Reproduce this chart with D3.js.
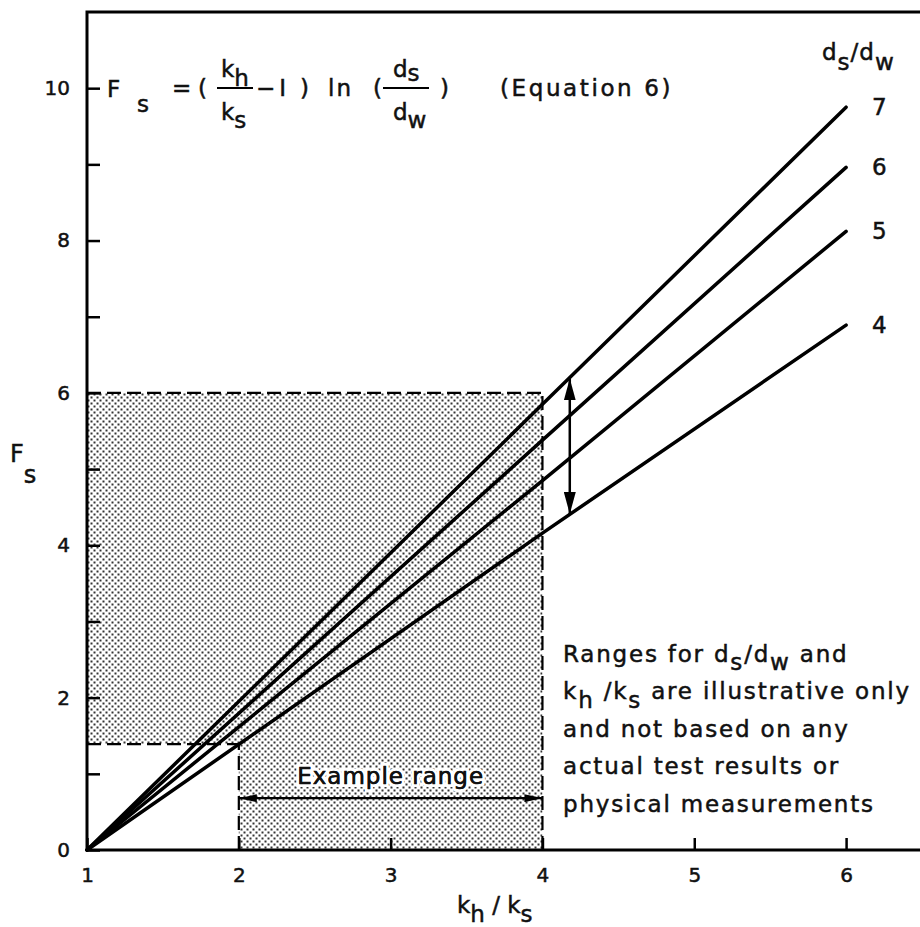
<!DOCTYPE html>
<html lang="en">
<head>
<meta charset="UTF-8">
<title>Fs vs kh/ks</title>
<script src="https://d3js.org/d3.v7.min.js"></script>
<style>
  body { margin: 0; background: #fff; }
  svg { display: block; font-family: "DejaVu Sans", sans-serif; }
  text { fill: #111; stroke: #111; stroke-width: 0.5px; }
</style>
</head>
<body>
<svg id="chart" width="920" height="927"></svg>
<script>
// values
const khks = [1, 4, 6];                      // x positions of the read points
const ratios = ["4", "5", "6", "7"];         // ds/dw curves
const fsValues = [
  [0, 4.16, 6.89],
  [0, 4.85, 8.12],
  [0, 5.38, 8.96],
  [0, 5.85, 9.75]
];
const xTicks = [1, 2, 3, 4, 5, 6];
const yMajor = [0, 2, 4, 6, 8, 10];
const yMinor = [1, 3, 5, 7, 9];
const exampleRange = [2, 4];                 // kh/ks
const fsRange = [1.39, 6];                   // Fs at ends of example range
const spreadArrow = { x: 4.18, from: 4.41, to: 6.19 };
const rangeArrowY = 0.68;

const width = 920, height = 927;
const svg = d3.select("#chart");

const x = d3.scaleLinear().domain([1, 6.5]).range([87, 922]);
const y = d3.scaleLinear().domain([0, 11]).range([850, 12]);

// stipple pattern for the shaded area
const defs = svg.append("defs");
const pat = defs.append("pattern")
  .attr("id", "stipple").attr("patternUnits", "userSpaceOnUse")
  .attr("width", 6).attr("height", 6);
pat.append("rect").attr("width", 6).attr("height", 6).attr("fill", "#fff");
pat.append("rect").attr("x", 0.5).attr("y", 0.5).attr("width", 2).attr("height", 2).attr("fill", "#333");
pat.append("rect").attr("x", 3.5).attr("y", 3.5).attr("width", 2).attr("height", 2).attr("fill", "#333");

function marker(id, w, h) {
  defs.append("marker")
    .attr("id", id).attr("viewBox", `0 0 ${w} ${h}`)
    .attr("refX", w).attr("refY", h / 2)
    .attr("markerWidth", w).attr("markerHeight", h)
    .attr("markerUnits", "userSpaceOnUse")
    .attr("orient", "auto-start-reverse")
    .append("path").attr("d", `M0,0L${w},${h / 2}L0,${h}Z`).attr("fill", "#000");
}
marker("bigArrow", 22, 12);
marker("smallArrow", 18, 8);

// shaded region
const [r0, r1] = exampleRange, [f0, f1] = fsRange;
const shade = [[1, f0], [1, f1], [r1, f1], [r1, 0], [r0, 0], [r0, f0]];
svg.append("path")
  .attr("d", d3.line().x(d => x(d[0])).y(d => y(d[1]))(shade) + "Z")
  .attr("fill", "url(#stipple)");

// dashed guides
const dashed = [
  [[1, f1], [r1, f1]], [[r1, 0], [r1, f1]],
  [[1, f0], [r0, f0]], [[r0, 0], [r0, f0]]
];
svg.selectAll(".guide").data(dashed).join("line")
  .attr("x1", d => x(d[0][0])).attr("y1", d => y(d[0][1]))
  .attr("x2", d => x(d[1][0])).attr("y2", d => y(d[1][1]))
  .attr("stroke", "#000").attr("stroke-width", 2.2)
  .attr("stroke-dasharray", "14,6");

// axes (ticks inward)
const yAxis = d3.axisLeft(y).tickValues(yMajor).tickSize(-13).tickPadding(17).tickFormat(d3.format("d"));
const gy = svg.append("g").attr("transform", `translate(${x(1)},0)`).call(yAxis);
gy.selectAll("line").attr("stroke-width", 2.5);
svg.append("g").attr("transform", `translate(${x(1)},0)`)
  .call(d3.axisLeft(y).tickValues(yMinor).tickSize(-13).tickFormat(""))
  .selectAll("line").attr("stroke-width", 2.5);

const gx = svg.append("g").attr("transform", `translate(0,${y(0)})`)
  .call(d3.axisBottom(x).tickValues(xTicks).tickSize(-12).tickPadding(18).tickFormat(d3.format("d")));
gx.selectAll("line").attr("stroke-width", 2.5);

svg.selectAll(".domain").remove();
svg.selectAll(".tick text").attr("font-size", 20).attr("fill", "#111").attr("font-family", "DejaVu Sans");

// frame
const frame = [[1, 0], [1, 11], [6.5, 11]];
svg.append("path")
  .attr("d", d3.line().x(d => x(d[0])).y(d => y(d[1]))(frame))
  .attr("fill", "none").attr("stroke", "#000").attr("stroke-width", 3);
svg.append("line")
  .attr("x1", x(1)).attr("x2", x(6.5)).attr("y1", y(0)).attr("y2", y(0))
  .attr("stroke", "#000").attr("stroke-width", 3);

// curves
const line = d3.line().x((d, i) => x(khks[i])).y(d => y(d));
svg.selectAll(".curve").data(fsValues).join("path")
  .attr("d", d => line(d))
  .attr("fill", "none").attr("stroke", "#000").attr("stroke-width", 3.5)
  .attr("stroke-linecap", "round");

// curve labels
svg.selectAll(".clab").data(fsValues).join("text")
  .attr("x", 872).attr("y", d => y(d[d.length - 1]) + 8)
  .attr("font-size", 23)
  .text((d, i) => ratios[i]);

// spread arrow
svg.append("line")
  .attr("x1", x(spreadArrow.x)).attr("x2", x(spreadArrow.x))
  .attr("y1", y(spreadArrow.from)).attr("y2", y(spreadArrow.to))
  .attr("stroke", "#000").attr("stroke-width", 2.5)
  .attr("marker-start", "url(#bigArrow)").attr("marker-end", "url(#bigArrow)");

// example range arrow
svg.append("line")
  .attr("x1", x(r0)).attr("x2", x(r1))
  .attr("y1", y(rangeArrowY)).attr("y2", y(rangeArrowY))
  .attr("stroke", "#000").attr("stroke-width", 2.2)
  .attr("marker-start", "url(#smallArrow)").attr("marker-end", "url(#smallArrow)");

svg.append("text")
  .attr("x", (x(r0) + x(r1)) / 2).attr("y", 784)
  .attr("text-anchor", "middle").attr("font-size", 23).attr("letter-spacing", 1)
  .style("stroke", "#fff").style("stroke-width", "6px").attr("paint-order", "stroke")
  .text("Example range");
svg.append("text")
  .attr("x", (x(r0) + x(r1)) / 2).attr("y", 784)
  .attr("text-anchor", "middle").attr("font-size", 23).attr("letter-spacing", 1)
  .text("Example range");

// helper for text with subscripts: parts = [[text, dy], ...]
function rich(xp, yp, size, parts, ls) {
  const t = svg.append("text").attr("x", xp).attr("y", yp).attr("font-size", size)
    .attr("letter-spacing", ls || 0);
  let cur = 0;
  parts.forEach(([s, off, sz]) => {
    t.append("tspan").attr("dy", off - cur).attr("font-size", sz || size).text(s);
    cur = off;
  });
  return t;
}

// equation
rich(107, 97, 23, [["F", 0]]);
rich(137, 112, 23, [["s", 0]]);
rich(172, 96, 23, [["=", 0]]);
rich(198, 96, 23, [["(", 0]]);
rich(221, 77, 23, [["k", 0], ["h", 9]]);
svg.append("line").attr("x1", 217).attr("x2", 253).attr("y1", 88).attr("y2", 88)
  .attr("stroke", "#000").attr("stroke-width", 2);
rich(221, 120, 23, [["k", 0], ["s", 8]]);
rich(256, 96, 23, [["\u2212I", 0]], 4);
rich(300, 96, 23, [[")", 0]]);
rich(328, 96, 23, [["ln", 0]], 2);
rich(373, 96, 23, [["(", 0]]);
rich(393, 77, 23, [["d", 0], ["s", 4]]);
svg.append("line").attr("x1", 383).attr("x2", 429).attr("y1", 88).attr("y2", 88)
  .attr("stroke", "#000").attr("stroke-width", 2);
rich(393, 120, 23, [["d", 0], ["w", 8]]);
rich(440, 96, 23, [[")", 0]]);
rich(500, 96, 23, [["(Equation 6)", 0]], 2.6);

// ds/dw header
rich(822, 60, 23, [["d", 0], ["s", 10], ["/", 0], ["d", 0], ["w", 10]], 1);

// axis titles
rich(10, 462, 24, [["F", 0], ["s", 21]]);
rich(457, 913, 23, [["k", 0], ["h", 9], [" / ", 0], ["k", 0], ["s", 9]]);

// note
const noteX = 563;
const noteLs = 1.8;
rich(noteX, 662, 23, [["Ranges for d", 0], ["s", 8], ["/d", 0], ["w", 8], [" and", 0]], noteLs);
rich(noteX, 699, 23, [["k", 0], ["h", 9], [" /k", 0], ["s", 9], [" are illustrative only", 0]], noteLs);
rich(noteX, 737, 23, [["and not based on any", 0]], noteLs);
rich(noteX, 774, 23, [["actual test results or", 0]], noteLs);
rich(noteX, 812, 23, [["physical measurements", 0]], noteLs);
</script>
</body>
</html>
